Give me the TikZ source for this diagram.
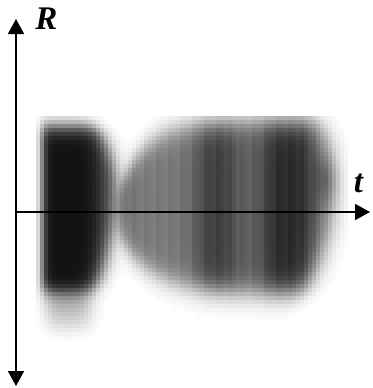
\documentclass[tikz,border=0pt]{standalone}
\usepackage{fontspec}
\setmainfont{Liberation Serif}
\usetikzlibrary{arrows.meta}
\begin{document}
\begin{tikzpicture}[x=1pt,y=-1pt,
  declare function={sg(\u,\w)=1/(1+exp(-max(min(\u/\w,9),-9)));},
  axis/.style={line width=1.6pt, black, >={Triangle[length=15pt,width=16pt]}},
  lbl/.style={font=\fontsize{33}{33}\selectfont\bfseries\itshape, inner sep=0pt}]
\useasboundingbox (0,0) rectangle (372,388);
% row-only factors
\foreach \j in {0,...,55}{
  \pgfmathsetmacro\y{118+4*\j}
  \pgfmathsetmacro\ra{sg(\y-126,5)*sg(290-\y,5)}
  \pgfmathsetmacro\rb{116-(0.45*(\y<190)+0.2*(\y>=190))*((\y-190)/10)^2}
  \pgfmathsetmacro\rc{332-0.25*((\y-190)/10)^2}
  \pgfmathsetmacro\rd{exp(max(-9,-((\y-178)/24)^2))}
  \pgfmathsetmacro\re{sg(\y-287,5)*sg(330-\y,6)*(0.38-0.005*(\y-287))}
  \expandafter\xdef\csname ra\j\endcsname{\ra}
  \expandafter\xdef\csname rb\j\endcsname{\rb}
  \expandafter\xdef\csname rc\j\endcsname{\rc}
  \expandafter\xdef\csname rd\j\endcsname{\rd}
  \expandafter\xdef\csname re\j\endcsname{\re}
}
% blurred density
\foreach \i in {0,...,77}{
  \pgfmathsetmacro\x{38+4*\i}
  \pgfmathsetmacro\aL{0.93*sg(\x-42,2.5)*(1-0.18*sg(\x-98,5))}
  \pgfmathsetmacro\tx{sg(\x-47,4)*sg(90-\x,5)}
  \pgfmathsetmacro\Tt{121+55*exp(-(\x-125)/28)}
  \pgfmathsetmacro\Bb{294-48*exp(-(\x-125)/35)}
  \pgfmathsetmacro\A{(0.52+0.1*sg(\x-195,10)+0.02*sin(\x*30)+0.15*sg(\x-198,5)*sg(232-\x,5)+0.22*sg(\x-266,5)*sg(311-\x,5))*sg(\x-120,3)}
  \pgfmathsetmacro\bx{0.14*exp(max(-9,-((\x-328)/11)^2))}
  \foreach \j in {0,...,55}{
    \pgfmathsetmacro\y{118+4*\j}
    \edef\ra{\csname ra\j\endcsname}
    \edef\rb{\csname rb\j\endcsname}
    \edef\rc{\csname rc\j\endcsname}
    \edef\rd{\csname rd\j\endcsname}
    \edef\re{\csname re\j\endcsname}
    \pgfmathsetmacro\d{100*min(1,\aL*\ra*sg(\rb-\x,5)+\A*sg(\y-\Tt,7)*sg(\Bb-\y,7)*sg(\rc-\x,6)+\tx*\re+\bx*\rd)}
    \ifdim\d pt>1.5pt
      \fill[black!\d] (\x-2.2,\y-2.2) rectangle (\x+2.2,\y+2.2);
    \fi
  }
}
% axes
\coordinate (vb) at (16,386);
\coordinate (vt) at (16,19);
\coordinate (ho) at (16,212);
\coordinate (he) at (370,212);
\draw[axis,<->] (vb) -- (vt);
\draw[axis,->] (ho) -- (he);
\node[lbl] (R) at (46.5,19) {R};
\node[lbl] (t) at (358.5,183) {t};
\end{tikzpicture}
\end{document}
